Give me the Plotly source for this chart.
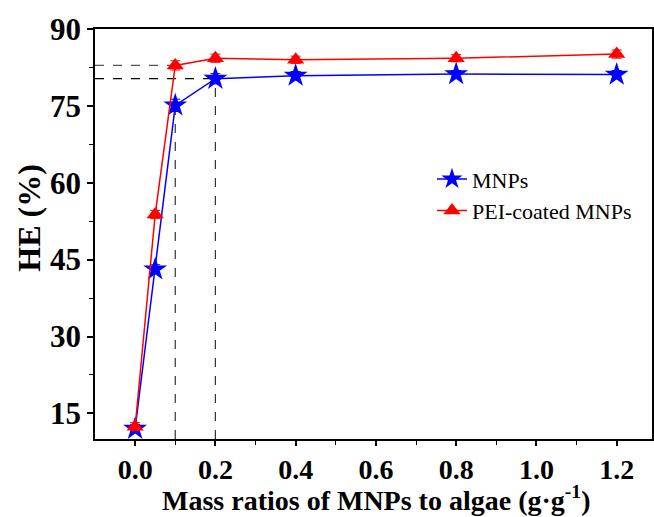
import plotly.graph_objects as go

x_vals = [0.0, 0.05, 0.1, 0.2, 0.4, 0.8, 1.2]
mnps = [12.0, 43.1, 75.1, 80.3, 80.9, 81.2, 81.1]
mnps_err = [0.8, 0.9, 1.2, 1.0, 0.8, 0.7, 0.8]
pei = [12.4, 53.8, 82.9, 84.3, 84.0, 84.3, 85.1]
pei_err = [0.8, 0.8, 0.9, 0.8, 0.7, 0.7, 0.8]

x_ticks = [0.0, 0.2, 0.4, 0.6, 0.8, 1.0, 1.2]
x_tick_labels = ["0.0", "0.2", "0.4", "0.6", "0.8", "1.0", "1.2"]
y_ticks = [15, 30, 45, 60, 75, 90]

FONT = "Liberation Serif, Times New Roman, serif"

fig = go.Figure()

# dashed guide lines
guides = [(0.1, 82.9, "#555555"), (0.2, 80.3, "black")]
for gx, gy, col in guides:
    fig.add_trace(go.Scatter(x=[-0.1, gx], y=[gy, gy], mode="lines",
                             line=dict(color=col, width=1.2, dash="dash"),
                             showlegend=False, hoverinfo="skip"))
fig.add_trace(go.Scatter(x=[0.1, 0.1], y=[10, mnps[2]], mode="lines",
                         line=dict(color="#333333", width=1.2, dash="dash"),
                         showlegend=False, hoverinfo="skip"))
fig.add_trace(go.Scatter(x=[0.2, 0.2], y=[10, mnps[3]], mode="lines",
                         line=dict(color="#333333", width=1.2, dash="dash"),
                         showlegend=False, hoverinfo="skip"))

fig.add_trace(go.Scatter(
    x=x_vals, y=mnps, mode="lines+markers", name="MNPs",
    line=dict(color="blue", width=1.5),
    marker=dict(symbol="star", size=18, color="blue"),
    error_y=dict(type="data", array=mnps_err, color="blue", thickness=1, width=5),
))
fig.add_trace(go.Scatter(
    x=x_vals, y=pei, mode="lines+markers", name="PEI-coated MNPs",
    line=dict(color="red", width=1.5),
    marker=dict(symbol="triangle-up", size=15, color="red"),
    error_y=dict(type="data", array=pei_err, color="red", thickness=1, width=5),
))

fig.update_layout(
    width=654, height=517,
    margin=dict(l=95, r=0, t=29, b=78),
    paper_bgcolor="white", plot_bgcolor="white",
    font=dict(family=FONT, color="black"),
    legend=dict(x=0.605, y=0.685, xanchor="left", yanchor="top",
                font=dict(family=FONT, size=22, color="black"),
                bgcolor="rgba(0,0,0,0)", tracegroupgap=0),
    showlegend=True,
    annotations=[
        dict(text="<b>HE (%)</b>", xref="paper", yref="paper",
             x=-0.12, y=0.54, xanchor="center", yanchor="middle",
             textangle=-90, showarrow=False,
             font=dict(family=FONT, size=32, color="black")),
        dict(text="<b>Mass ratios of MNPs to algae (g·g<sup>-1</sup>)</b>",
             xref="paper", yref="paper", x=0.505, y=-0.146,
             xanchor="center", yanchor="middle", showarrow=False,
             font=dict(family=FONT, size=28, color="black")),
    ],
)

fig.update_xaxes(
    range=[-0.1, 1.288], tickvals=x_ticks, ticktext=x_tick_labels,
    ticks="outside", ticklen=5, tickwidth=1.5, tickcolor="black",
    minor=dict(tickvals=[0.1, 0.3, 0.5, 0.7, 0.9, 1.1], ticks="outside", ticklen=4, tickwidth=1.2, tickcolor="black"),
    showline=True, linecolor="black", linewidth=1.5, mirror=True,
    showgrid=False, zeroline=False,
    tickfont=dict(family=FONT, size=28, color="black", weight="bold"),
)
fig.update_yaxes(
    range=[10, 90], tickvals=y_ticks,
    ticks="outside", ticklen=6, tickwidth=1.5, tickcolor="black",
    minor=dict(tickvals=[22.5, 37.5, 52.5, 67.5, 82.5], ticks="outside", ticklen=4, tickwidth=1.2, tickcolor="black"),
    showline=True, linecolor="black", linewidth=1.5, mirror=True,
    showgrid=False, zeroline=False,
    tickfont=dict(family=FONT, size=31, color="black", weight="bold"),
)

fig.write_html("out.html")
